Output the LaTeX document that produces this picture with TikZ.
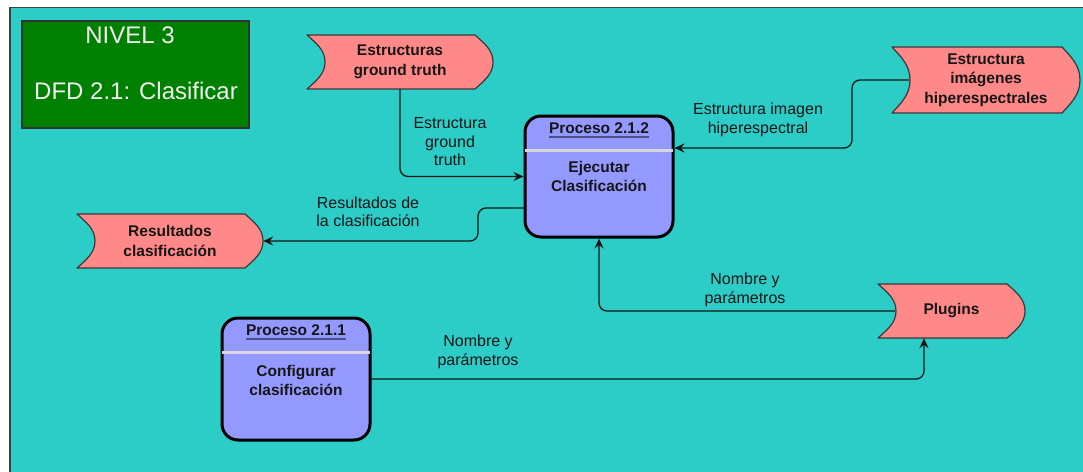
\documentclass[tikz,border=0pt]{standalone}
\usepackage{fontspec}
\setmainfont{Liberation Sans}
\usetikzlibrary{arrows.meta,calc}

\definecolor{bgteal}{RGB}{44,204,199}
\definecolor{framegray}{RGB}{60,64,66}
\definecolor{storefill}{RGB}{255,136,136}
\definecolor{procfill}{RGB}{147,153,255}
\definecolor{titlegreen}{RGB}{0,128,0}
\definecolor{inkdark}{RGB}{22,22,22}
\definecolor{ulinecol}{RGB}{74,80,128}
\definecolor{sepcol}{RGB}{215,215,228}
\definecolor{titletext}{RGB}{240,240,240}

\tikzset{
  storeline/.style={fill=storefill, draw=inkdark!85, line width=1.2pt, line join=round},
  storebox/.style={inner sep=0pt, align=center, text=inkdark,
    font=\fontsize{15.5}{19.5}\selectfont\bfseries},
  procbox/.style={fill=procfill, draw=black, line width=3pt, rounded corners=16pt, inner sep=0pt},
  prochead/.style={inner sep=0pt, text=inkdark, font=\fontsize{15.5}{19}\selectfont\bfseries},
  proctext/.style={align=center, text=inkdark, font=\fontsize{15.5}{19}\selectfont\bfseries},
  uline/.style={draw=ulinecol, line width=2pt},
  sepline/.style={draw=sepcol, line width=2.2pt},
  titlebox/.style={fill=titlegreen, draw=black!80, line width=1.2pt, inner sep=0pt},
  titletxt/.style={text=titletext, font=\fontsize{24}{28}\selectfont},
  flow/.style={draw=inkdark, line width=1.3pt, rounded corners=8pt,
    -{Stealth[length=10pt,width=9pt,inset=3.5pt]}},
  flowlabel/.style={align=center, text=inkdark, font=\fontsize{16}{18.5}\selectfont}
}

% Data store: flat top and bottom, concave left end, convex right end.
% Arguments: name, left, top, right, bottom, text
\newcommand\datastore[6]{%
  \pgfmathsetmacro\sL{#2}\pgfmathsetmacro\sT{#3}%
  \pgfmathsetmacro\sR{#4}\pgfmathsetmacro\sB{#5}%
  \pgfmathsetmacro\sM{(#3+#5)/2}%
  \pgfmathsetmacro\sA{0.3*(#5-#3)/2}\pgfmathsetmacro\sC{0.45*(#5-#3)/2}%
  \pgfmathsetmacro\sW{#4-#2}\pgfmathsetmacro\sH{#5-#3}%
  \draw[storeline] (\sL,\sT) -- (\sR-18,\sT)
    .. controls (\sR-9,\sT+\sA) and (\sR,\sM-\sC) .. (\sR,\sM)
    .. controls (\sR,\sM+\sC) and (\sR-9,\sB-\sA) .. (\sR-18,\sB)
    -- (\sL,\sB)
    .. controls (\sL+9,\sB-\sA) and (\sL+18,\sM+\sC) .. (\sL+18,\sM)
    .. controls (\sL+18,\sM-\sC) and (\sL+9,\sT+\sA) .. (\sL,\sT) -- cycle;
  \node[storebox, minimum width=\sW pt, minimum height=\sH pt] (#1)
    at ({(#2+#4)/2},\sM) {#6};
}

\begin{document}
\begin{tikzpicture}[x=1pt,y=-1pt]
  \useasboundingbox (0,0) rectangle (1083,471);
  \fill[white] (0,0) rectangle (1083,471);
  \draw[fill=bgteal, draw=framegray, line width=1.3pt] (10,7.5) rectangle (1100,490);

  % title block
  \node[titlebox, minimum width=227pt, minimum height=107pt] (title) at (135.5,74.5) {};
  \node[titletxt] (level) at (130,35) {NIVEL 3};
  \node[titletxt] (dfd) at (136,91) {DFD 2.1: Clasificar};

  % data stores
  \datastore{gt}{307}{35}{493}{89}{Estructuras\\ground truth}
  \datastore{hip}{892}{47}{1080}{113}{Estructura\\imágenes\\hiperespectrales}
  \datastore{res}{77}{214}{263}{268}{Resultados\\clasificación}
  \datastore{plug}{878}{284}{1025}{338}{Plugins}

  % process 2.1.2
  \node[procbox, minimum width=148pt, minimum height=121pt] (p2) at (599,176.5) {};
  \draw[sepline] ($(p2.north west)+(1.6,36)$) -- ($(p2.north east)+(-1.6,36)$);
  \node[prochead] (p2h) at ($(p2.north)+(0,13.5)$) {Proceso 2.1.2};
  \draw[uline] ([yshift=-3.5pt]p2h.base west) -- ([yshift=-3.5pt]p2h.base east);
  \node[proctext] (p2b) at ($(p2.north)+(0,62)$) {Ejecutar\\Clasificación};

  % process 2.1.1
  \node[procbox, minimum width=148pt, minimum height=122pt] (p1) at (296,379) {};
  \draw[sepline] ($(p1.north west)+(1.6,36)$) -- ($(p1.north east)+(-1.6,36)$);
  \node[prochead] (p1h) at ($(p1.north)+(0,14)$) {Proceso 2.1.1};
  \draw[uline] ([yshift=-3.5pt]p1h.base west) -- ([yshift=-3.5pt]p1h.base east);
  \node[proctext] (p1b) at ($(p1.north)+(0,63.5)$) {Configurar\\clasificación};

  % bend points of the flows
  \coordinate (bendres) at (478,0);
  \coordinate (bendhip) at (852,0);
  \coordinate (hipin) at ($(hip.west)+(17,0)$);
  \coordinate (plugin) at ($(plug.west)+(17,0)$);
  \coordinate (p2out) at ($(p2.west)+(0,31.5)$);
  \coordinate (p2in) at ($(p2.east)+(0,-28.5)$);
  \coordinate (plugbot) at ($(plug.south)+(-27.5,0)$);

  % flows
  \draw[flow] (gt.south) |- (p2.west);
  \draw[flow] (p2out) -| (bendres |- res.east) -- (res.east);
  \draw[flow] (hipin) -| (bendhip |- p2in) -- (p2in);
  \draw[flow] (plugin) -| (p2.south);
  \draw[flow] (p1.east) -| (plugbot);

  % flow labels
  \node[flowlabel] (lgt) at (450,142) {Estructura\\ground\\truth};
  \node[flowlabel] (lres) at (368,212) {Resultados de\\la clasificación};
  \node[flowlabel] (lhip) at (758,120) {Estructura imagen\\hiperespectral};
  \node[flowlabel] (lplug) at (745,290) {Nombre y\\parámetros};
  \node[flowlabel] (lconf) at (478,352) {Nombre y\\parámetros};
\end{tikzpicture}
\end{document}
